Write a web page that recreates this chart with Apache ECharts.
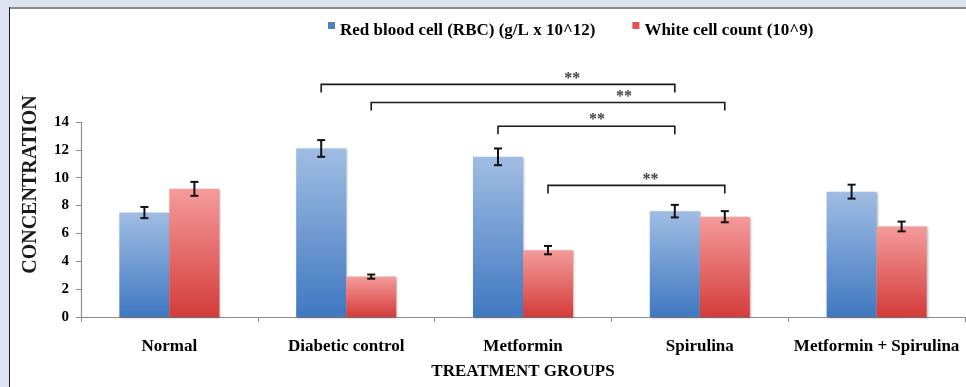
<!DOCTYPE html>
<html>
<head>
<meta charset="utf-8">
<script src="https://cdn.jsdelivr.net/npm/echarts@6/dist/echarts.min.js"></script>
<style>
  html, body { margin: 0; padding: 0; background: #dfe3f1; }
  #chart { width: 966px; height: 387px; }
</style>
</head>
<body>
<div id="chart"></div>
<script>
// Treatment groups on the x axis
const categories = ['Normal', 'Diabetic control', 'Metformin', 'Spirulina', 'Metformin + Spirulina'];

// Series names
const seriesNames = ['Red blood cell (RBC) (g/L x 10^12)', 'White cell count (10^9)'];

// Mean values and their error margins
const rbcValues = [7.5, 12.1, 11.5, 7.6, 9.0];
const rbcErrors = [0.4, 0.6, 0.6, 0.45, 0.5];
const wbcValues = [9.2, 2.9, 4.8, 7.2, 6.5];
const wbcErrors = [0.5, 0.15, 0.3, 0.4, 0.35];

// Y axis scale
const yMin = 0;
const yMax = 14;
const yStep = 2;

// Significance comparisons: [fromCategory, fromSeries, toCategory, toSeries, bracketHeight]
const comparisons = [
  [1, 0, 3, 0, 16.7],
  [1, 1, 3, 1, 15.4],
  [2, 0, 3, 0, 13.7],
  [2, 1, 3, 1, 9.45]
];
const comparisonLabel = '**';

// ---- layout / style ----
const FONT = "'Liberation Serif', 'Times New Roman', serif";
const BAR_WIDTH = 50;
const STAR_POS = [0.71, 0.715, 0.56, 0.58]; // where the stars sit along each bracket
const LEG = 8;

function sideOffset(side) { return side === 0 ? -BAR_WIDTH / 2 : BAR_WIDTH / 2; }

function errorBars(values, errors, side) {
  return {
    type: 'custom',
    z: 10,
    silent: true,
    data: values.map((v, i) => [i, v - errors[i], v + errors[i]]),
    renderItem(params, api) {
      const cat = api.value(0);
      const x = api.coord([cat, 0])[0] + sideOffset(side);
      const lo = api.coord([cat, api.value(1)])[1];
      const hi = api.coord([cat, api.value(2)])[1];
      const cap = 4;
      const st = { stroke: '#111', lineWidth: 2 };
      return {
        type: 'group',
        children: [
          { type: 'line', shape: { x1: x, y1: lo, x2: x, y2: hi }, style: st },
          { type: 'line', shape: { x1: x - cap, y1: hi, x2: x + cap, y2: hi }, style: st },
          { type: 'line', shape: { x1: x - cap, y1: lo, x2: x + cap, y2: lo }, style: st }
        ]
      };
    }
  };
}

const bracketSeries = {
  type: 'custom',
  z: 12,
  silent: true,
  clip: false,
  data: comparisons.map(c => [c[0], c[4], c[1], c[2], c[3]]),
  renderItem(params, api) {
    const idx = params.dataIndex;
    const fromCat = api.value(0), level = api.value(1);
    const fromSide = api.value(2), toCat = api.value(3), toSide = api.value(4);
    const x1 = api.coord([fromCat, 0])[0] + sideOffset(fromSide);
    const x2 = api.coord([toCat, 0])[0] + sideOffset(toSide);
    const y = api.coord([fromCat, level])[1];
    const st = { stroke: '#1a1a1a', lineWidth: 1.6, fill: null };
    return {
      type: 'group',
      children: [
        { type: 'polyline', shape: { points: [[x1, y + LEG], [x1, y], [x2, y], [x2, y + LEG]] }, style: st },
        {
          type: 'text',
          style: {
            text: comparisonLabel,
            x: x1 + (x2 - x1) * STAR_POS[idx],
            y: y + 2,
            align: 'center',
            verticalAlign: 'bottom',
            fill: '#404040',
            font: "bold 16px " + FONT
          }
        }
      ]
    };
  }
};

function gradient(top, bottom) {
  return new echarts.graphic.LinearGradient(0, 0, 0, 1, [
    { offset: 0, color: top },
    { offset: 1, color: bottom }
  ]);
}

const barShadow = { shadowColor: 'rgba(0,0,0,0.28)', shadowBlur: 2, shadowOffsetX: 1, shadowOffsetY: 1 };

const chart = echarts.init(document.getElementById('chart'), null, { renderer: 'canvas' });
chart.setOption({
  backgroundColor: '#dfe3f1',
  animation: false,
  graphic: [
    { type: 'rect', z: -5, silent: true, shape: { x: 10, y: 9, width: 956, height: 378 }, style: { fill: '#ffffff' } },
    { type: 'rect', z: -4, silent: true, shape: { x: 9, y: 7, width: 957, height: 2 }, style: { fill: '#8a8a8a' } },
    { type: 'rect', z: -4, silent: true, shape: { x: 9, y: 7, width: 1, height: 380 }, style: { fill: '#1c1c1c' } }
  ],
  legend: {
    top: 17,
    left: 323,
    itemWidth: 7,
    itemHeight: 17,
    itemGap: 37,
    icon: 'path://M0,0H7V7H0Z M0,17H0.01V17.01H0Z',
    textStyle: { fontFamily: FONT, fontWeight: 'bold', fontSize: 17, color: '#000' },
    data: [
      { name: seriesNames[0], itemStyle: { color: '#4f81bd' } },
      { name: seriesNames[1], itemStyle: { color: '#e0504e' } }
    ]
  },
  grid: { left: 81, right: 1, top: 122, bottom: 70 },
  xAxis: {
    type: 'category',
    data: categories,
    name: 'TREATMENT GROUPS',
    nameLocation: 'middle',
    nameGap: 46,
    nameTextStyle: { fontFamily: FONT, fontWeight: 'bold', fontSize: 17, color: '#000' },
    axisLine: { lineStyle: { color: '#8c8c8c', width: 1.2 } },
    axisTick: { show: true, length: 5, lineStyle: { color: '#8c8c8c' } },
    axisLabel: { interval: 0, margin: 21, fontFamily: FONT, fontWeight: 'bold', fontSize: 17, color: '#000' }
  },
  yAxis: {
    type: 'value',
    min: yMin,
    max: yMax,
    interval: yStep,
    name: 'CONCENTRATION',
    nameLocation: 'middle',
    nameGap: 40,
    nameTextStyle: { fontFamily: FONT, fontWeight: 'bold', fontSize: 20, color: '#1a1a1a', padding: [0, 0, 0, 70] },
    splitLine: { show: false },
    axisLine: { show: true, lineStyle: { color: '#8c8c8c', width: 1.2 } },
    axisTick: { show: true, length: 5, lineStyle: { color: '#8c8c8c' } },
    axisLabel: { margin: 12, fontFamily: FONT, fontWeight: 'bold', fontSize: 15, color: '#000' }
  },
  series: [
    {
      name: seriesNames[0],
      type: 'bar',
      barWidth: BAR_WIDTH,
      barGap: '0%',
      data: rbcValues,
      itemStyle: Object.assign({ color: gradient('#a0bde3', '#3f78c1') }, barShadow)
    },
    {
      name: seriesNames[1],
      type: 'bar',
      barWidth: BAR_WIDTH,
      barGap: '0%',
      data: wbcValues,
      itemStyle: Object.assign({ color: gradient('#f49b9b', '#d43c3a') }, barShadow)
    },
    errorBars(rbcValues, rbcErrors, 0),
    errorBars(wbcValues, wbcErrors, 1),
    bracketSeries
  ]
});
</script>
</body>
</html>
